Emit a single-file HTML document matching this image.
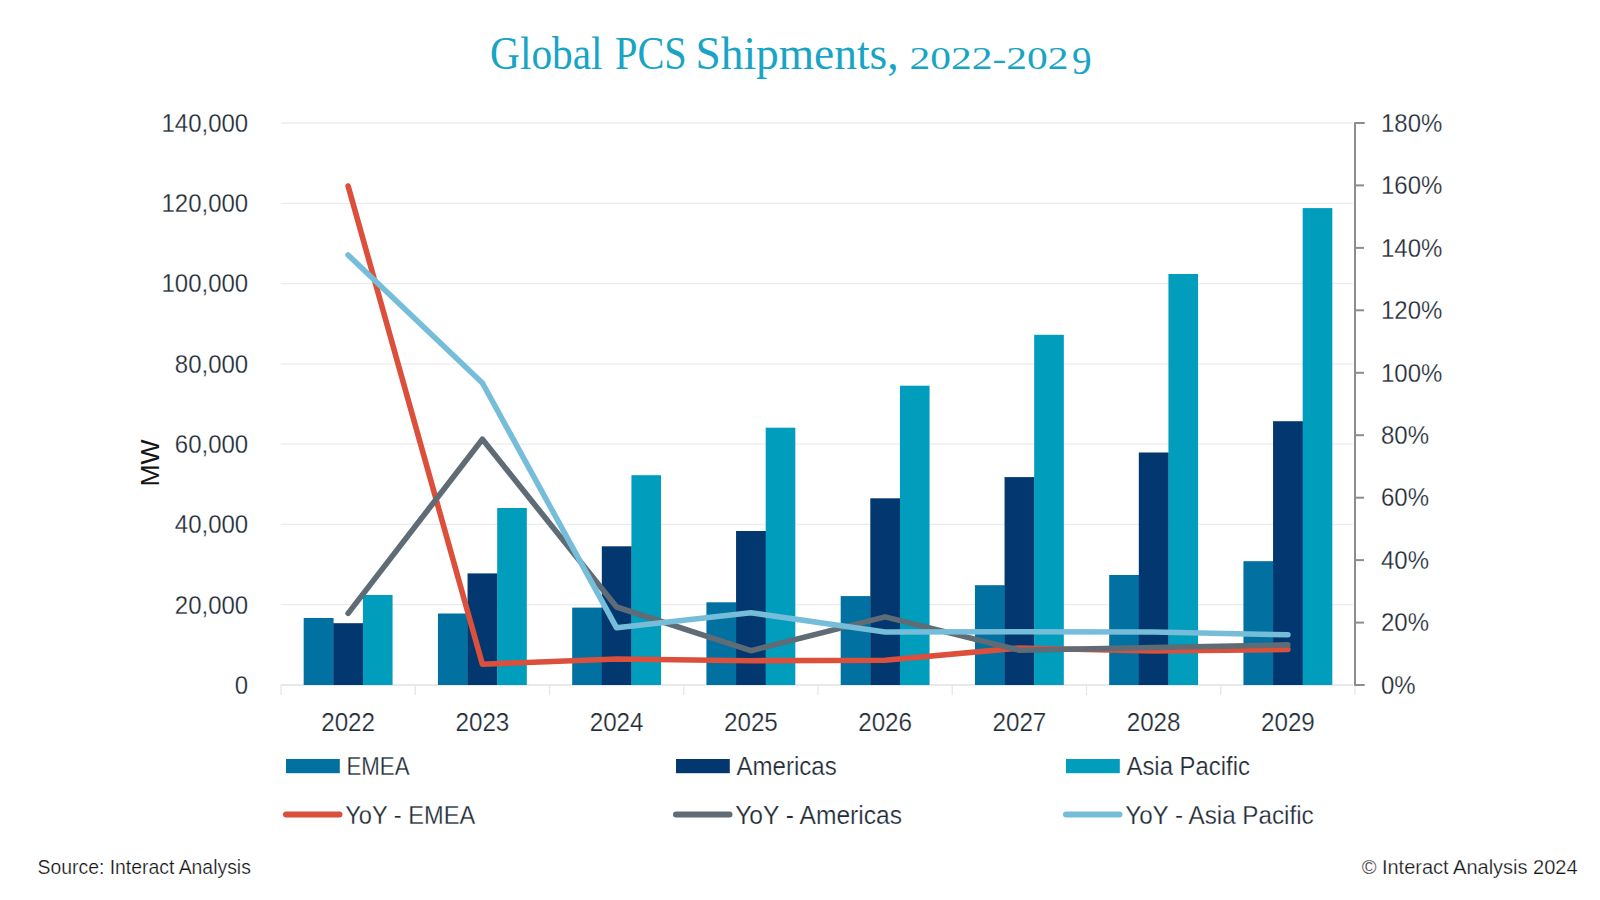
<!DOCTYPE html><html><head><meta charset="utf-8"><title>Global PCS Shipments</title><style>
html,body{margin:0;padding:0;background:#fff;}body{width:1600px;height:900px;overflow:hidden;position:relative;}
svg{position:absolute;left:0;top:0;}
text{font-family:"Liberation Sans",sans-serif;}text.t{stroke:#fff;stroke-width:0.25px;}
</style></head><body>
<svg width="1600" height="900" viewBox="0 0 1600 900">
<rect x="0" y="0" width="1600" height="900" fill="#ffffff"/>
<text transform="translate(490.09,69.00) scale(0.9087,1)" text-anchor="start" font-size="45.5" fill="#18a5c5" style="font-family:'Liberation Serif',serif">Global</text>
<text transform="translate(615.01,69.00) scale(0.887,1)" text-anchor="start" font-size="45.5" fill="#18a5c5" style="font-family:'Liberation Serif',serif">PCS</text>
<text transform="translate(695.44,69.00) scale(0.9985,1)" text-anchor="start" font-size="45.5" fill="#18a5c5" style="font-family:'Liberation Serif',serif">Shipments,</text>
<text transform="translate(909.53,69.00) scale(1.2753,1)" text-anchor="start" font-size="32.5" fill="#18a5c5" style="font-family:'Liberation Serif',serif">2022-202</text>
<text transform="translate(1072.03,74.40) scale(0.9678,1)" text-anchor="start" font-size="40.5" fill="#18a5c5" style="font-family:'Liberation Serif',serif">9</text>
<line x1="281.0" y1="685.0" x2="1353.0" y2="685.0" stroke="#e2e2e2" stroke-width="1.3"/>
<line x1="281.0" y1="604.7" x2="1353.0" y2="604.7" stroke="#ececec" stroke-width="1.3"/>
<line x1="281.0" y1="524.4" x2="1353.0" y2="524.4" stroke="#ececec" stroke-width="1.3"/>
<line x1="281.0" y1="444.1" x2="1353.0" y2="444.1" stroke="#ececec" stroke-width="1.3"/>
<line x1="281.0" y1="363.9" x2="1353.0" y2="363.9" stroke="#ececec" stroke-width="1.3"/>
<line x1="281.0" y1="283.6" x2="1353.0" y2="283.6" stroke="#ececec" stroke-width="1.3"/>
<line x1="281.0" y1="203.3" x2="1353.0" y2="203.3" stroke="#ececec" stroke-width="1.3"/>
<line x1="281.0" y1="123.0" x2="1353.0" y2="123.0" stroke="#ececec" stroke-width="1.3"/>
<line x1="281.0" y1="685.0" x2="281.0" y2="695.0" stroke="#e6e6e6" stroke-width="1.3"/>
<line x1="415.2" y1="685.0" x2="415.2" y2="695.0" stroke="#e6e6e6" stroke-width="1.3"/>
<line x1="549.5" y1="685.0" x2="549.5" y2="695.0" stroke="#e6e6e6" stroke-width="1.3"/>
<line x1="683.8" y1="685.0" x2="683.8" y2="695.0" stroke="#e6e6e6" stroke-width="1.3"/>
<line x1="818.0" y1="685.0" x2="818.0" y2="695.0" stroke="#e6e6e6" stroke-width="1.3"/>
<line x1="952.2" y1="685.0" x2="952.2" y2="695.0" stroke="#e6e6e6" stroke-width="1.3"/>
<line x1="1086.5" y1="685.0" x2="1086.5" y2="695.0" stroke="#e6e6e6" stroke-width="1.3"/>
<line x1="1220.8" y1="685.0" x2="1220.8" y2="695.0" stroke="#e6e6e6" stroke-width="1.3"/>
<line x1="1355.0" y1="685.0" x2="1355.0" y2="695.0" stroke="#e6e6e6" stroke-width="1.3"/>
<text transform="translate(248.20,693.80) scale(0.96,1)" text-anchor="end" font-size="25" fill="#212a35" class="t">0</text>
<text transform="translate(248.20,613.51) scale(0.96,1)" text-anchor="end" font-size="25" fill="#212a35" class="t">20,000</text>
<text transform="translate(248.20,533.23) scale(0.96,1)" text-anchor="end" font-size="25" fill="#212a35" class="t">40,000</text>
<text transform="translate(248.20,452.94) scale(0.96,1)" text-anchor="end" font-size="25" fill="#212a35" class="t">60,000</text>
<text transform="translate(248.20,372.66) scale(0.96,1)" text-anchor="end" font-size="25" fill="#212a35" class="t">80,000</text>
<text transform="translate(248.20,292.37) scale(0.96,1)" text-anchor="end" font-size="25" fill="#212a35" class="t">100,000</text>
<text transform="translate(248.20,212.09) scale(0.96,1)" text-anchor="end" font-size="25" fill="#212a35" class="t">120,000</text>
<text transform="translate(248.20,131.80) scale(0.96,1)" text-anchor="end" font-size="25" fill="#212a35" class="t">140,000</text>
<text transform="translate(158.5,463) rotate(-90) scale(1.06,1)" text-anchor="middle" font-size="25" fill="#151515">MW</text>
<path d="M1364.0,123.0 H1355.0 V685.0 H1364.0" fill="none" stroke="#8d8d8d" stroke-width="2" stroke-linejoin="round" stroke-linecap="round"/>
<text transform="translate(1381.00,693.80) scale(0.96,1)" text-anchor="start" font-size="25" fill="#212a35" class="t">0%</text>
<line x1="1355.0" y1="622.6" x2="1364.0" y2="622.6" stroke="#8d8d8d" stroke-width="2"/>
<text transform="translate(1381.00,631.36) scale(0.96,1)" text-anchor="start" font-size="25" fill="#212a35" class="t">20%</text>
<line x1="1355.0" y1="560.1" x2="1364.0" y2="560.1" stroke="#8d8d8d" stroke-width="2"/>
<text transform="translate(1381.00,568.91) scale(0.96,1)" text-anchor="start" font-size="25" fill="#212a35" class="t">40%</text>
<line x1="1355.0" y1="497.7" x2="1364.0" y2="497.7" stroke="#8d8d8d" stroke-width="2"/>
<text transform="translate(1381.00,506.47) scale(0.96,1)" text-anchor="start" font-size="25" fill="#212a35" class="t">60%</text>
<line x1="1355.0" y1="435.2" x2="1364.0" y2="435.2" stroke="#8d8d8d" stroke-width="2"/>
<text transform="translate(1381.00,444.02) scale(0.96,1)" text-anchor="start" font-size="25" fill="#212a35" class="t">80%</text>
<line x1="1355.0" y1="372.8" x2="1364.0" y2="372.8" stroke="#8d8d8d" stroke-width="2"/>
<text transform="translate(1381.00,381.58) scale(0.96,1)" text-anchor="start" font-size="25" fill="#212a35" class="t">100%</text>
<line x1="1355.0" y1="310.3" x2="1364.0" y2="310.3" stroke="#8d8d8d" stroke-width="2"/>
<text transform="translate(1381.00,319.13) scale(0.96,1)" text-anchor="start" font-size="25" fill="#212a35" class="t">120%</text>
<line x1="1355.0" y1="247.9" x2="1364.0" y2="247.9" stroke="#8d8d8d" stroke-width="2"/>
<text transform="translate(1381.00,256.69) scale(0.96,1)" text-anchor="start" font-size="25" fill="#212a35" class="t">140%</text>
<line x1="1355.0" y1="185.4" x2="1364.0" y2="185.4" stroke="#8d8d8d" stroke-width="2"/>
<text transform="translate(1381.00,194.24) scale(0.96,1)" text-anchor="start" font-size="25" fill="#212a35" class="t">160%</text>
<text transform="translate(1381.00,131.80) scale(0.96,1)" text-anchor="start" font-size="25" fill="#212a35" class="t">180%</text>
<rect x="303.68" y="618.0" width="29.93" height="67.0" fill="#0071a0"/>
<rect x="333.31" y="623.2" width="29.93" height="61.8" fill="#03376f"/>
<rect x="362.94" y="595.0" width="29.63" height="90.0" fill="#009dbd"/>
<text transform="translate(348.12,730.50) scale(0.97,1)" text-anchor="middle" font-size="25" fill="#212a35" class="t">2022</text>
<rect x="437.93" y="613.5" width="29.93" height="71.5" fill="#0071a0"/>
<rect x="467.56" y="573.4" width="29.93" height="111.6" fill="#03376f"/>
<rect x="497.19" y="508.0" width="29.63" height="177.0" fill="#009dbd"/>
<text transform="translate(482.38,730.50) scale(0.97,1)" text-anchor="middle" font-size="25" fill="#212a35" class="t">2023</text>
<rect x="572.18" y="607.6" width="29.93" height="77.4" fill="#0071a0"/>
<rect x="601.81" y="546.3" width="29.93" height="138.7" fill="#03376f"/>
<rect x="631.44" y="475.2" width="29.63" height="209.8" fill="#009dbd"/>
<text transform="translate(616.62,730.50) scale(0.97,1)" text-anchor="middle" font-size="25" fill="#212a35" class="t">2024</text>
<rect x="706.43" y="602.3" width="29.93" height="82.7" fill="#0071a0"/>
<rect x="736.06" y="531.0" width="29.93" height="154.0" fill="#03376f"/>
<rect x="765.69" y="427.7" width="29.63" height="257.3" fill="#009dbd"/>
<text transform="translate(750.88,730.50) scale(0.97,1)" text-anchor="middle" font-size="25" fill="#212a35" class="t">2025</text>
<rect x="840.68" y="596.1" width="29.93" height="88.9" fill="#0071a0"/>
<rect x="870.31" y="498.3" width="29.93" height="186.7" fill="#03376f"/>
<rect x="899.94" y="385.7" width="29.63" height="299.3" fill="#009dbd"/>
<text transform="translate(885.12,730.50) scale(0.97,1)" text-anchor="middle" font-size="25" fill="#212a35" class="t">2026</text>
<rect x="974.93" y="585.2" width="29.93" height="99.8" fill="#0071a0"/>
<rect x="1004.56" y="477.1" width="29.93" height="207.9" fill="#03376f"/>
<rect x="1034.19" y="334.8" width="29.63" height="350.2" fill="#009dbd"/>
<text transform="translate(1019.38,730.50) scale(0.97,1)" text-anchor="middle" font-size="25" fill="#212a35" class="t">2027</text>
<rect x="1109.18" y="575.0" width="29.93" height="110.0" fill="#0071a0"/>
<rect x="1138.81" y="452.5" width="29.93" height="232.5" fill="#03376f"/>
<rect x="1168.44" y="274.0" width="29.63" height="411.0" fill="#009dbd"/>
<text transform="translate(1153.62,730.50) scale(0.97,1)" text-anchor="middle" font-size="25" fill="#212a35" class="t">2028</text>
<rect x="1243.43" y="561.2" width="29.93" height="123.8" fill="#0071a0"/>
<rect x="1273.06" y="421.2" width="29.93" height="263.8" fill="#03376f"/>
<rect x="1302.69" y="208.1" width="29.63" height="476.9" fill="#009dbd"/>
<text transform="translate(1287.88,730.50) scale(0.97,1)" text-anchor="middle" font-size="25" fill="#212a35" class="t">2029</text>
<polyline points="348.1,186.0 482.4,664.2 616.6,659.0 750.9,660.7 885.1,660.3 1019.4,648.0 1153.6,651.0 1287.9,649.4" fill="none" stroke="#db4f3b" stroke-width="5.6" stroke-linejoin="round" stroke-linecap="round"/>
<polyline points="348.1,613.4 482.4,439.3 616.6,607.0 750.9,650.7 885.1,616.9 1019.4,650.2 1153.6,647.5 1287.9,644.9" fill="none" stroke="#5f6b75" stroke-width="5.6" stroke-linejoin="round" stroke-linecap="round"/>
<polyline points="348.1,255.0 482.4,383.0 616.6,627.8 750.9,612.7 885.1,632.0 1019.4,631.7 1153.6,632.0 1287.9,634.8" fill="none" stroke="#76bdda" stroke-width="5.6" stroke-linejoin="round" stroke-linecap="round"/>
<rect x="286" y="759" width="53.8" height="14.2" fill="#0071a0"/>
<text transform="translate(346.50,774.50) scale(0.89,1)" text-anchor="start" font-size="25" fill="#212a35" class="t">EMEA</text>
<rect x="676" y="759" width="53.8" height="14.2" fill="#03376f"/>
<text transform="translate(736.50,774.50) scale(0.963,1)" text-anchor="start" font-size="25" fill="#212a35" class="t">Americas</text>
<rect x="1066" y="759" width="53.8" height="14.2" fill="#009dbd"/>
<text transform="translate(1126.50,774.50) scale(0.955,1)" text-anchor="start" font-size="25" fill="#212a35" class="t">Asia Pacific</text>
<line x1="286" y1="814.5" x2="339.5" y2="814.5" stroke="#db4f3b" stroke-width="6" stroke-linecap="round"/>
<text transform="translate(345.20,823.50) scale(0.945,1)" text-anchor="start" font-size="25" fill="#212a35" class="t">YoY - EMEA</text>
<line x1="676" y1="814.5" x2="729.5" y2="814.5" stroke="#5f6b75" stroke-width="6" stroke-linecap="round"/>
<text transform="translate(735.20,823.50) scale(0.984,1)" text-anchor="start" font-size="25" fill="#212a35" class="t">YoY - Americas</text>
<line x1="1066" y1="814.5" x2="1119.5" y2="814.5" stroke="#76bdda" stroke-width="6" stroke-linecap="round"/>
<text transform="translate(1125.20,823.50) scale(0.969,1)" text-anchor="start" font-size="25" fill="#212a35" class="t">YoY - Asia Pacific</text>
<text transform="translate(37.50,874.00) scale(0.97,1)" text-anchor="start" font-size="20" fill="#151515" class="t">Source: Interact Analysis</text>
<text x="1577.60" y="874.00" text-anchor="end" font-size="20" fill="#151515" class="t">© Interact Analysis 2024</text>
</svg></body></html>
